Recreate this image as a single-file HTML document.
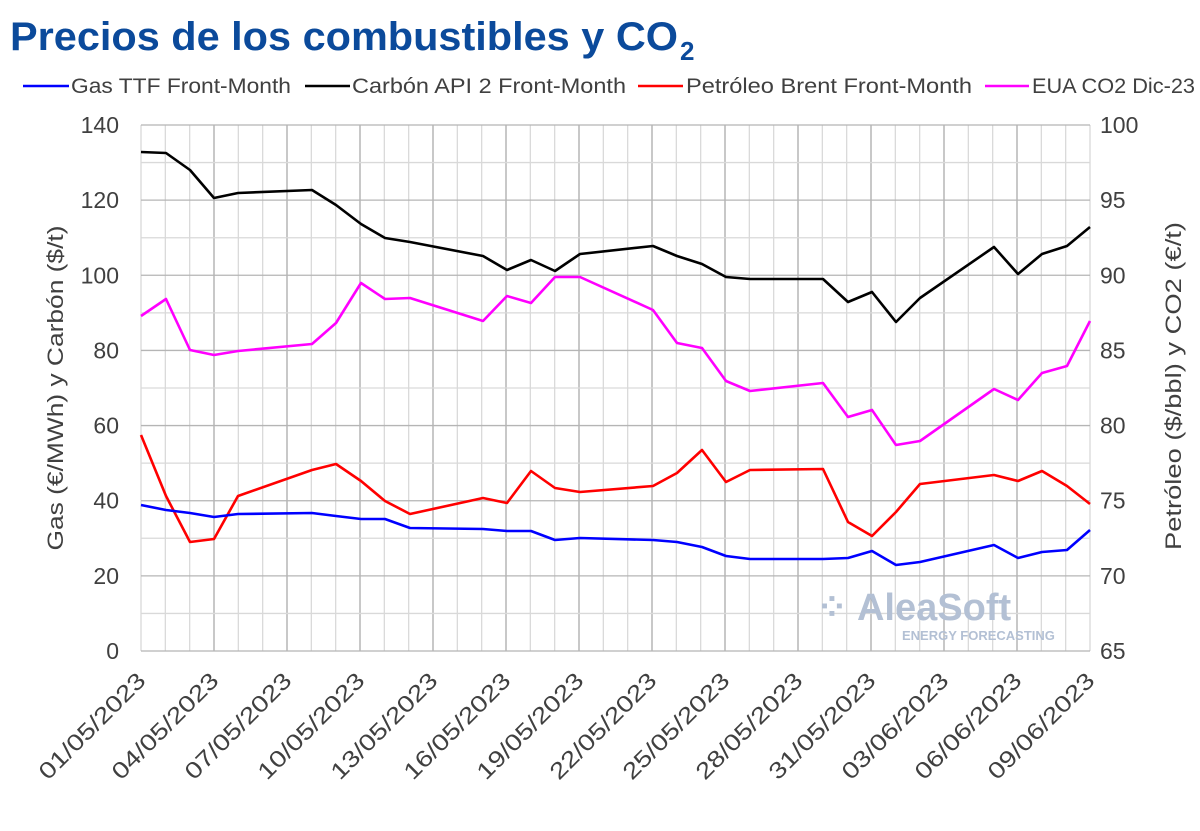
<!DOCTYPE html>
<html><head><meta charset="utf-8"><style>
body{margin:0;background:#fff;}
svg{display:block;font-family:"Liberation Sans",sans-serif;}
</style></head><body>
<svg width="1200" height="831" viewBox="0 0 1200 831" xmlns="http://www.w3.org/2000/svg">
<text x="10" y="50" font-size="40" font-weight="bold" fill="#0b4a9b" textLength="668" lengthAdjust="spacingAndGlyphs">Precios de los combustibles y CO</text>
<text x="680" y="60" font-size="26" font-weight="bold" fill="#0b4a9b">2</text>
<g font-size="21" fill="#404040">
<line x1="23" y1="86" x2="69" y2="86" stroke="#0000ff" stroke-width="2.5"/><text x="71" y="93" textLength="220" lengthAdjust="spacingAndGlyphs">Gas TTF Front-Month</text>
<line x1="305" y1="86" x2="350" y2="86" stroke="#000" stroke-width="2.5"/><text x="352" y="93" textLength="274" lengthAdjust="spacingAndGlyphs">Carbón API 2 Front-Month</text>
<line x1="638" y1="86" x2="683" y2="86" stroke="#ff0000" stroke-width="2.5"/><text x="686" y="93" textLength="286" lengthAdjust="spacingAndGlyphs">Petróleo Brent Front-Month</text>
<line x1="985" y1="86" x2="1029" y2="86" stroke="#ff00ff" stroke-width="2.5"/><text x="1032" y="93" textLength="163" lengthAdjust="spacingAndGlyphs">EUA CO2 Dic-23</text>
</g>
<g id="grid"></g>
<g id="labels" font-size="23" fill="#404040"></g>
<text transform="translate(63,388) rotate(-90)" text-anchor="middle" font-size="22" fill="#404040" textLength="325" lengthAdjust="spacingAndGlyphs">Gas (€/MWh) y Carbón ($/t)</text>
<text transform="translate(1181,386) rotate(-90)" text-anchor="middle" font-size="22" fill="#404040" textLength="328" lengthAdjust="spacingAndGlyphs">Petróleo ($/bbl) y CO2 (€/t)</text>
<text x="816" y="620" font-size="38" font-weight="bold" fill="#b3c0d4">⁘ AleaSoft</text>
<text x="902" y="640" font-size="13" font-weight="bold" fill="#b3c0d4">ENERGY FORECASTING</text>
<g id="series" fill="none" stroke-width="2.6" stroke-linejoin="round"></g>
</svg>
<script>
var ns="http://www.w3.org/2000/svg";
function el(p,t,a,txt){var e=document.createElementNS(ns,t);for(var k in a)e.setAttribute(k,a[k]);if(txt!==undefined)e.textContent=txt;document.getElementById(p).appendChild(e);return e;}
var L=141,R=1090,T=125,B=651,dx=(R-L)/39;
for(var d=0;d<=39;d++){var x=L+d*dx;el("grid","line",{x1:x,y1:T,x2:x,y2:B,stroke:d%3==0&&d>0&&d<39?"#aaa":"#d9d9d9","stroke-width":1.3});}
for(var v=0;v<=140;v+=10){var y=B-(v/140)*(B-T);el("grid","line",{x1:L,y1:y,x2:R,y2:y,stroke:v%20==0?"#b5b5b5":"#d9d9d9","stroke-width":1.3});
if(v%20==0)el("labels","text",{x:119,y:y+8,"text-anchor":"end"},v);}
for(var r=65;r<=100;r+=5){var y=B-((r-65)/35)*(B-T);el("labels","text",{x:1100,y:y+8},r);}
var dates=["01/05/2023","04/05/2023","07/05/2023","10/05/2023","13/05/2023","16/05/2023","19/05/2023","22/05/2023","25/05/2023","28/05/2023","31/05/2023","03/06/2023","06/06/2023","09/06/2023"];
dates.forEach(function(s,i){var x=L+i*3*dx+6;el("labels","text",{transform:"translate("+x+",682) rotate(-45)","text-anchor":"end","font-size":23,textLength:140,lengthAdjust:"spacingAndGlyphs"},s);});
var xs=[141,166,190,214,238,312,336,361,385,410,483,507,531,555,580,653,677,702,726,750,823,848,872,896,920,994,1018,1042,1067,1090];
var S={
"#000000":[152,153,170,198,193,190,205,224,238,242,256,270,260,271,254,246,256,264,277,279,279,302,292,322,298,247,274,254,246,227],
"#ff00ff":[316,299,350,355,351,344,323,283,299,298,321,296,303,277,277,310,343,348,381,391,383,417,410,445,441,389,400,373,366,321],
"#ff0000":[435,496,542,539,496,470,464,481,501,514,498,503,471,488,492,486,473,450,482,470,469,522,536,512,484,475,481,471,486,504],
"#0000ff":[505,510,513,517,514,513,516,519,519,528,529,531,531,540,538,540,542,547,556,559,559,558,551,565,562,545,558,552,550,530]};
for(var c in S){el("series","polyline",{stroke:c,points:S[c].map(function(y,i){return xs[i]+","+y;}).join(" ")});}
</script>
</body></html>
